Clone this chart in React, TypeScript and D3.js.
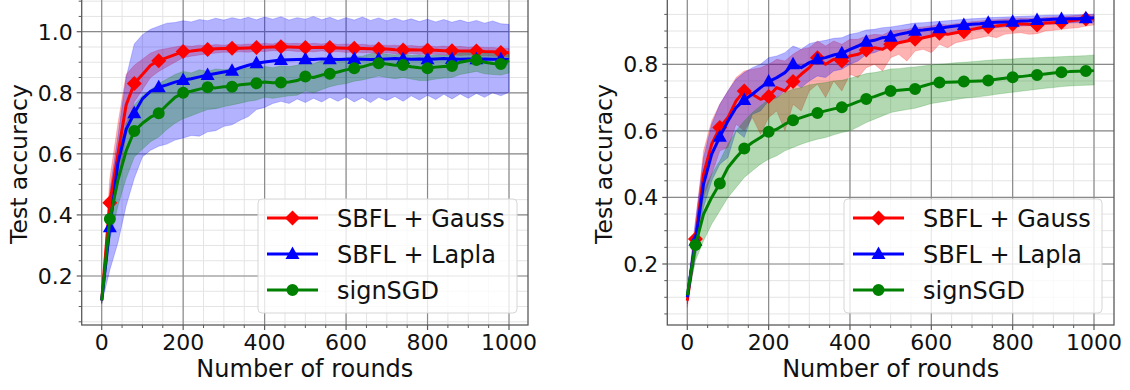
import React, { useEffect, useRef } from "react";
import * as d3 from "d3";

// rounds sampled every 20 (0..1000)
const rounds = d3.range(0, 1001, 20);
const markerIdx = d3.range(1, rounds.length, 3); // 20, 80, 140 ... 980

const xTicks = [0, 200, 400, 600, 800, 1000];
const leftYTicks = [0.2, 0.4, 0.6, 0.8, 1.0];
const rightYTicks = [0.2, 0.4, 0.6, 0.8];
const legendLabels = ["SBFL + Gauss", "SBFL + Lapla", "signSGD"];

// ---- left panel ----
const leftGaussMean = [0.12, 0.44, 0.6, 0.76, 0.83, 0.86, 0.89, 0.905, 0.915, 0.925, 0.935, 0.937, 0.94, 0.942, 0.944, 0.945, 0.946, 0.946, 0.947, 0.948, 0.949, 0.95, 0.951, 0.95, 0.949, 0.948, 0.948, 0.949, 0.948, 0.947, 0.946, 0.946, 0.945, 0.944, 0.943, 0.943, 0.941, 0.94, 0.941, 0.94, 0.94, 0.939, 0.938, 0.938, 0.937, 0.937, 0.937, 0.935, 0.934, 0.932, 0.931];
const leftGaussUpper = [0.13, 0.52, 0.7, 0.86, 0.89, 0.91, 0.93, 0.94, 0.945, 0.95, 0.955, 0.952, 0.956, 0.954, 0.958, 0.956, 0.96, 0.957, 0.96, 0.958, 0.962, 0.96, 0.966, 0.961, 0.962, 0.959, 0.962, 0.96, 0.963, 0.958, 0.96, 0.957, 0.959, 0.956, 0.957, 0.955, 0.956, 0.953, 0.955, 0.952, 0.955, 0.951, 0.953, 0.95, 0.952, 0.949, 0.951, 0.948, 0.948, 0.946, 0.945];
const leftGaussLower = [0.11, 0.36, 0.5, 0.66, 0.77, 0.81, 0.85, 0.87, 0.885, 0.9, 0.915, 0.92, 0.924, 0.928, 0.93, 0.933, 0.932, 0.934, 0.933, 0.936, 0.935, 0.938, 0.937, 0.938, 0.935, 0.936, 0.934, 0.937, 0.934, 0.935, 0.932, 0.934, 0.931, 0.932, 0.929, 0.931, 0.928, 0.927, 0.929, 0.926, 0.927, 0.926, 0.924, 0.925, 0.922, 0.924, 0.922, 0.921, 0.92, 0.918, 0.917];

const leftLaplaMean = [0.12, 0.36, 0.57, 0.68, 0.733, 0.78, 0.805, 0.818, 0.826, 0.835, 0.842, 0.846, 0.852, 0.858, 0.863, 0.868, 0.872, 0.882, 0.89, 0.897, 0.901, 0.904, 0.907, 0.908, 0.909, 0.91, 0.909, 0.911, 0.91, 0.909, 0.91, 0.911, 0.91, 0.909, 0.91, 0.911, 0.912, 0.911, 0.91, 0.911, 0.91, 0.911, 0.912, 0.911, 0.91, 0.911, 0.91, 0.911, 0.91, 0.91, 0.909];
const leftLaplaUpper = [0.13, 0.48, 0.66, 0.85, 0.96, 0.99, 1.008, 1.018, 1.028, 1.03, 1.036, 1.032, 1.04, 1.036, 1.044, 1.038, 1.046, 1.04, 1.047, 1.039, 1.048, 1.041, 1.049, 1.038, 1.046, 1.041, 1.05, 1.039, 1.047, 1.037, 1.046, 1.038, 1.048, 1.037, 1.045, 1.036, 1.044, 1.035, 1.042, 1.033, 1.041, 1.032, 1.04, 1.031, 1.038, 1.03, 1.037, 1.028, 1.035, 1.026, 1.024];
const leftLaplaLower = [0.11, 0.22, 0.31, 0.43, 0.52, 0.59, 0.612, 0.625, 0.632, 0.645, 0.652, 0.66, 0.658, 0.672, 0.676, 0.69, 0.695, 0.71, 0.722, 0.745, 0.752, 0.765, 0.772, 0.765, 0.78, 0.768, 0.782, 0.77, 0.785, 0.772, 0.786, 0.77, 0.784, 0.768, 0.785, 0.775, 0.788, 0.772, 0.79, 0.776, 0.792, 0.778, 0.795, 0.78, 0.796, 0.782, 0.798, 0.785, 0.8, 0.79, 0.802];

const leftSignMean = [0.12, 0.387, 0.515, 0.61, 0.675, 0.7, 0.72, 0.733, 0.76, 0.785, 0.8, 0.805, 0.812, 0.818, 0.816, 0.82, 0.82, 0.826, 0.829, 0.831, 0.835, 0.833, 0.834, 0.835, 0.84, 0.853, 0.85, 0.858, 0.862, 0.868, 0.875, 0.88, 0.885, 0.893, 0.897, 0.894, 0.89, 0.891, 0.885, 0.882, 0.88, 0.884, 0.886, 0.888, 0.9, 0.905, 0.907, 0.9, 0.896, 0.894, 0.905];
const leftSignUpper = [0.13, 0.44, 0.6, 0.7, 0.76, 0.79, 0.81, 0.83, 0.845, 0.86, 0.87, 0.865, 0.875, 0.87, 0.878, 0.875, 0.88, 0.876, 0.882, 0.88, 0.886, 0.882, 0.888, 0.886, 0.89, 0.9, 0.895, 0.905, 0.902, 0.91, 0.915, 0.918, 0.92, 0.928, 0.93, 0.926, 0.924, 0.928, 0.922, 0.924, 0.92, 0.924, 0.922, 0.926, 0.93, 0.932, 0.935, 0.93, 0.928, 0.926, 0.93];
const leftSignLower = [0.11, 0.32, 0.43, 0.52, 0.59, 0.615, 0.64, 0.655, 0.68, 0.7, 0.715, 0.725, 0.735, 0.745, 0.748, 0.755, 0.76, 0.766, 0.772, 0.776, 0.785, 0.782, 0.786, 0.79, 0.792, 0.806, 0.8, 0.81, 0.82, 0.826, 0.83, 0.838, 0.842, 0.848, 0.855, 0.85, 0.846, 0.85, 0.845, 0.84, 0.84, 0.845, 0.848, 0.85, 0.86, 0.865, 0.87, 0.862, 0.86, 0.858, 0.865];

// ---- right panel ----
const rightGaussMean = [0.09, 0.275, 0.47, 0.56, 0.61, 0.64, 0.69, 0.72, 0.71, 0.695, 0.703, 0.73, 0.72, 0.748, 0.77, 0.79, 0.82, 0.8, 0.815, 0.81, 0.825, 0.83, 0.843, 0.85, 0.845, 0.86, 0.865, 0.87, 0.875, 0.88, 0.885, 0.893, 0.89, 0.895, 0.898, 0.905, 0.91, 0.913, 0.915, 0.918, 0.92, 0.922, 0.92, 0.918, 0.924, 0.925, 0.926, 0.93, 0.933, 0.936, 0.937];
const rightGaussUpper = [0.11, 0.32, 0.54, 0.63, 0.68, 0.72, 0.76, 0.78, 0.785, 0.79, 0.8, 0.815, 0.81, 0.83, 0.845, 0.85, 0.87, 0.855, 0.87, 0.86, 0.875, 0.875, 0.885, 0.89, 0.888, 0.9, 0.902, 0.905, 0.91, 0.912, 0.915, 0.92, 0.918, 0.922, 0.924, 0.928, 0.93, 0.933, 0.934, 0.936, 0.937, 0.939, 0.938, 0.937, 0.941, 0.942, 0.943, 0.945, 0.947, 0.949, 0.95];
const rightGaussLower = [0.07, 0.23, 0.4, 0.47, 0.54, 0.55, 0.62, 0.6, 0.64, 0.59, 0.64, 0.66, 0.6, 0.68, 0.66, 0.72, 0.74, 0.7, 0.75, 0.72, 0.77, 0.76, 0.79, 0.8, 0.78, 0.82, 0.83, 0.81, 0.84, 0.845, 0.835, 0.86, 0.85, 0.865, 0.87, 0.875, 0.88, 0.885, 0.88, 0.89, 0.893, 0.895, 0.89, 0.892, 0.9, 0.902, 0.905, 0.908, 0.91, 0.915, 0.918];

const rightLaplaMean = [0.1, 0.27, 0.44, 0.53, 0.582, 0.63, 0.67, 0.693, 0.71, 0.73, 0.748, 0.76, 0.775, 0.8, 0.79, 0.805, 0.815, 0.82, 0.828, 0.833, 0.845, 0.855, 0.868, 0.872, 0.88, 0.883, 0.89, 0.895, 0.901, 0.903, 0.906, 0.908, 0.912, 0.915, 0.918, 0.92, 0.922, 0.925, 0.926, 0.927, 0.928, 0.93, 0.931, 0.933, 0.934, 0.935, 0.936, 0.937, 0.937, 0.938, 0.94];
const rightLaplaUpper = [0.12, 0.33, 0.52, 0.62, 0.68, 0.72, 0.755, 0.775, 0.79, 0.8, 0.82, 0.825, 0.835, 0.855, 0.845, 0.862, 0.868, 0.872, 0.878, 0.88, 0.89, 0.895, 0.903, 0.905, 0.91, 0.912, 0.916, 0.92, 0.924, 0.925, 0.927, 0.929, 0.931, 0.933, 0.935, 0.937, 0.938, 0.94, 0.941, 0.942, 0.943, 0.944, 0.945, 0.946, 0.947, 0.948, 0.948, 0.949, 0.949, 0.95, 0.951];
const rightLaplaLower = [0.08, 0.22, 0.37, 0.45, 0.5, 0.52, 0.6, 0.58, 0.65, 0.66, 0.69, 0.7, 0.72, 0.745, 0.73, 0.75, 0.765, 0.76, 0.78, 0.785, 0.8, 0.81, 0.83, 0.835, 0.845, 0.85, 0.862, 0.87, 0.876, 0.88, 0.884, 0.888, 0.892, 0.896, 0.9, 0.902, 0.905, 0.908, 0.91, 0.912, 0.913, 0.915, 0.916, 0.918, 0.92, 0.921, 0.922, 0.924, 0.925, 0.926, 0.928];

const rightSignMean = [0.106, 0.257, 0.35, 0.4, 0.442, 0.49, 0.52, 0.547, 0.565, 0.58, 0.597, 0.605, 0.62, 0.632, 0.64, 0.648, 0.654, 0.66, 0.666, 0.671, 0.678, 0.688, 0.696, 0.703, 0.712, 0.72, 0.722, 0.724, 0.726, 0.735, 0.742, 0.745, 0.746, 0.747, 0.748, 0.749, 0.75, 0.751, 0.755, 0.758, 0.761, 0.763, 0.766, 0.768, 0.771, 0.774, 0.776, 0.778, 0.779, 0.78, 0.781];
const rightSignUpper = [0.12, 0.3, 0.42, 0.47, 0.51, 0.56, 0.6, 0.63, 0.655, 0.675, 0.695, 0.7, 0.715, 0.725, 0.73, 0.738, 0.742, 0.745, 0.75, 0.752, 0.758, 0.765, 0.772, 0.775, 0.78, 0.786, 0.787, 0.79, 0.792, 0.795, 0.798, 0.8, 0.802, 0.805, 0.806, 0.808, 0.81, 0.812, 0.814, 0.815, 0.816, 0.818, 0.819, 0.82, 0.821, 0.822, 0.823, 0.824, 0.825, 0.826, 0.828];
const rightSignLower = [0.09, 0.21, 0.27, 0.32, 0.36, 0.4, 0.43, 0.46, 0.48, 0.5, 0.515, 0.525, 0.54, 0.55, 0.56, 0.568, 0.575, 0.58, 0.588, 0.595, 0.6, 0.612, 0.625, 0.635, 0.645, 0.655, 0.66, 0.664, 0.668, 0.675, 0.682, 0.686, 0.69, 0.694, 0.698, 0.7, 0.703, 0.706, 0.71, 0.713, 0.716, 0.719, 0.722, 0.725, 0.728, 0.73, 0.733, 0.735, 0.736, 0.737, 0.738];

const colors = ["#ff0000", "#0000ff", "#008000"];
const markers = ["diamond", "triangle", "circle"];

function markerPath(kind: string) {
  if (kind === "diamond") return "M0,-7.5L7.5,0L0,7.5L-7.5,0Z";
  if (kind === "triangle") return "M0,-7.5L7,5L-7,5Z";
  return d3.symbol(d3.symbolCircle, 113)();
}

const panels = [
  {
    frame: [81.7, 528, -4, 325],
    xRange: [101.7, 509],
    yDomain: [0.2, 1.0],
    yRange: [276, 31.7],
    yTicks: leftYTicks,
    ylabelX: 27,
    ylabelY: 164,
    legend: [258, 199, 259, 114],
    series: [
      [leftGaussMean, leftGaussLower, leftGaussUpper],
      [leftLaplaMean, leftLaplaLower, leftLaplaUpper],
      [leftSignMean, leftSignLower, leftSignUpper],
    ],
  },
  {
    frame: [667.3, 1114, -4, 325],
    xRange: [687.3, 1094],
    yDomain: [0.2, 0.8],
    yRange: [264, 64.3],
    yTicks: rightYTicks,
    ylabelX: 612,
    ylabelY: 164,
    legend: [844, 199, 258, 114],
    series: [
      [rightGaussMean, rightGaussLower, rightGaussUpper],
      [rightLaplaMean, rightLaplaLower, rightLaplaUpper],
      [rightSignMean, rightSignLower, rightSignUpper],
    ],
  },
];

export default function App() {
  const svgRef = useRef<SVGSVGElement>(null);

  useEffect(() => {
    const svg = d3.select(svgRef.current);
    svg.selectAll("*").remove();
    const font = "'DejaVu Sans', sans-serif";

    panels.forEach((p, pi) => {
      const [fl, fr, ft, fb] = p.frame;
      const x = d3.scaleLinear().domain([0, 1000]).range(p.xRange);
      const y = d3.scaleLinear().domain(p.yDomain).range(p.yRange);
      const g = svg.append("g");

      const clipId = `clip${pi}`;
      svg.append("clipPath").attr("id", clipId)
        .append("rect").attr("x", fl).attr("y", ft).attr("width", fr - fl).attr("height", fb - ft);

      // minor grid
      const xMinor = d3.range(-50, 1101, 50).filter(v => x(v) > fl && x(v) < fr);
      const yLo = y.invert(fb), yHi = y.invert(0);
      const yMinor = d3.range(0, 1.2, 0.05).filter(v => v > yLo && v < yHi);
      g.selectAll(".xminor").data(xMinor).join("line")
        .attr("x1", d => x(d)).attr("x2", d => x(d)).attr("y1", ft).attr("y2", fb)
        .attr("stroke", "#e4e4e4").attr("stroke-width", 1);
      g.selectAll(".yminor").data(yMinor).join("line")
        .attr("x1", fl).attr("x2", fr).attr("y1", d => y(d)).attr("y2", d => y(d))
        .attr("stroke", "#e4e4e4").attr("stroke-width", 1);
      // major grid
      g.append("g").selectAll("line").data(xTicks).join("line")
        .attr("x1", d => x(d)).attr("x2", d => x(d)).attr("y1", ft).attr("y2", fb)
        .attr("stroke", "#8a8a8a").attr("stroke-width", 1.2);
      g.append("g").selectAll("line").data(p.yTicks).join("line")
        .attr("x1", fl).attr("x2", fr).attr("y1", d => y(d)).attr("y2", d => y(d))
        .attr("stroke", "#8a8a8a").attr("stroke-width", 1.2);

      const plot = g.append("g").attr("clip-path", `url(#${clipId})`);

      // bands
      p.series.forEach(([, lo, hi], si) => {
        const area = d3.area<number>()
          .x((_, i) => x(rounds[i]))
          .y0((_, i) => y(lo[i]))
          .y1((_, i) => y(hi[i]));
        plot.append("path").datum(lo).attr("d", area)
          .attr("fill", colors[si]).attr("fill-opacity", 0.3)
          .attr("stroke", colors[si]).attr("stroke-opacity", 0.25).attr("stroke-width", 0.8);
      });

      // lines + markers
      p.series.forEach(([mean], si) => {
        const line = d3.line<number>().x((_, i) => x(rounds[i])).y(d => y(d));
        plot.append("path").datum(mean).attr("d", line)
          .attr("fill", "none").attr("stroke", colors[si]).attr("stroke-width", 3)
          .attr("stroke-linejoin", "round");
        plot.selectAll(`.m${si}`).data(markerIdx).join("path")
          .attr("transform", i => `translate(${x(rounds[i])},${y(mean[i])})`)
          .attr("d", markerPath(markers[si]))
          .attr("fill", colors[si]);
      });

      // spines
      g.append("rect").attr("x", fl).attr("y", ft).attr("width", fr - fl).attr("height", fb - ft)
        .attr("fill", "none").attr("stroke", "#5a5a5a").attr("stroke-width", 1.3);

      // ticks
      g.selectAll(".xt").data(xTicks).join("line")
        .attr("x1", d => x(d)).attr("x2", d => x(d)).attr("y1", fb).attr("y2", fb + 5)
        .attr("stroke", "#5a5a5a").attr("stroke-width", 1.2);
      g.selectAll(".xmt").data(xMinor.filter(v => v % 200 !== 0)).join("line")
        .attr("x1", d => x(d)).attr("x2", d => x(d)).attr("y1", fb).attr("y2", fb + 3)
        .attr("stroke", "#5a5a5a").attr("stroke-width", 1);
      g.selectAll(".yt").data(p.yTicks).join("line")
        .attr("x1", fl - 5).attr("x2", fl).attr("y1", d => y(d)).attr("y2", d => y(d))
        .attr("stroke", "#5a5a5a").attr("stroke-width", 1.2);
      g.selectAll(".ymt").data(yMinor.filter(v => Math.abs(v * 5 - Math.round(v * 5)) > 1e-6)).join("line")
        .attr("x1", fl - 3).attr("x2", fl).attr("y1", d => y(d)).attr("y2", d => y(d))
        .attr("stroke", "#5a5a5a").attr("stroke-width", 1);

      g.selectAll(".xl").data(xTicks).join("text")
        .attr("x", d => x(d)).attr("y", 350)
        .attr("text-anchor", "middle").attr("font-family", font).attr("font-size", 22)
        .attr("fill", "#111").text(d => String(d));
      g.selectAll(".yl").data(p.yTicks).join("text")
        .attr("x", fl - 9).attr("y", d => y(d)).attr("dy", "0.36em")
        .attr("text-anchor", "end").attr("font-family", font).attr("font-size", 22)
        .attr("fill", "#111").text(d => d.toFixed(1));

      g.append("text").attr("x", (fl + fr) / 2).attr("y", 377)
        .attr("text-anchor", "middle").attr("font-family", font).attr("font-size", 24)
        .attr("fill", "#111").text("Number of rounds");
      g.append("text")
        .attr("transform", `translate(${p.ylabelX},${p.ylabelY}) rotate(-90)`)
        .attr("text-anchor", "middle").attr("font-family", font).attr("font-size", 23.5)
        .attr("fill", "#111").text("Test accuracy");

      // legend
      const [lx, ly, lw, lh] = p.legend;
      const lg = g.append("g");
      lg.append("rect").attr("x", lx).attr("y", ly).attr("width", lw).attr("height", lh)
        .attr("rx", 4).attr("fill", "white").attr("fill-opacity", 0.8)
        .attr("stroke", "#d6d6d6").attr("stroke-width", 1);
      legendLabels.forEach((lab, si) => {
        const cy = ly + 19 + si * 36;
        lg.append("line").attr("x1", lx + 9).attr("x2", lx + 60).attr("y1", cy).attr("y2", cy)
          .attr("stroke", colors[si]).attr("stroke-width", 3);
        lg.append("path").attr("transform", `translate(${lx + 34.5},${cy})`)
          .attr("d", markerPath(markers[si])).attr("fill", colors[si]);
        lg.append("text").attr("x", lx + 79).attr("y", cy).attr("dy", "0.36em")
          .attr("font-family", font).attr("font-size", 24).attr("fill", "#111").text(lab);
      });
    });
  }, []);

  return (
    <svg ref={svgRef} width={1130} height={390}
      style={{ position: "absolute", left: 0, top: 0, background: "white" }} />
  );
}
